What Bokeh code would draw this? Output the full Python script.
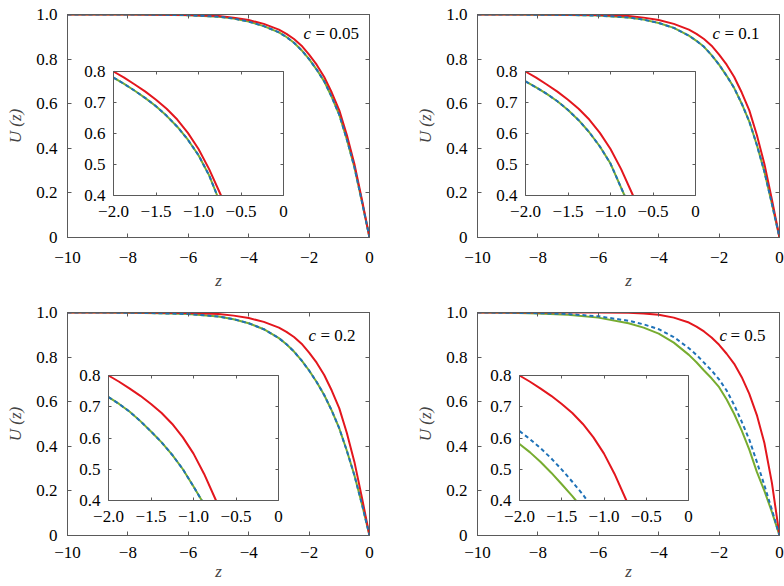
import numpy as np
from bokeh.plotting import figure
from bokeh.models import Range1d, LinearAxis, FixedTicker, BoxAnnotation, Label
from bokeh.layouts import column, row
from bokeh.embed import file_html
from bokeh.resources import INLINE

# ---------------- data ----------------
z_main = [-10, -9, -8, -7, -6, -5, -4.5, -4, -3.5, -3, -2.75, -2.5, -2.25, -2,
          -1.75, -1.5, -1.25, -1, -0.75, -0.5, -0.25, 0]

u_red_abc = [1.0, 1.0, 1.0, 0.999, 0.998, 0.993, 0.986, 0.975, 0.958, 0.932, 0.913, 0.89, 0.86, 0.82,
             0.775, 0.72, 0.65, 0.57, 0.46, 0.33, 0.17, 0.0]
u_red_d   = [1.0, 1.0, 1.0, 1.0, 1.0, 0.999, 0.996, 0.99, 0.977, 0.955, 0.937, 0.915, 0.888, 0.855,
             0.815, 0.77, 0.71, 0.635, 0.54, 0.415, 0.235, 0.0]

u_blue_a  = [1.0, 1.0, 1.0, 0.999, 0.997, 0.99, 0.982, 0.968, 0.948, 0.92, 0.899, 0.873, 0.84, 0.80,
             0.753, 0.70, 0.63, 0.55, 0.44, 0.315, 0.16, 0.0]
u_green_a = [1.0, 1.0, 1.0, 0.999, 0.997, 0.99, 0.982, 0.968, 0.948, 0.92, 0.899, 0.873, 0.84, 0.80,
             0.753, 0.70, 0.63, 0.55, 0.44, 0.315, 0.16, 0.0]
u_blue_b  = [1.0, 1.0, 0.999, 0.998, 0.995, 0.987, 0.977, 0.962, 0.94, 0.905, 0.882, 0.855, 0.818, 0.775,
             0.725, 0.67, 0.60, 0.52, 0.415, 0.295, 0.15, 0.0]
u_green_b = [1.0, 1.0, 0.999, 0.998, 0.995, 0.987, 0.977, 0.962, 0.94, 0.905, 0.882, 0.855, 0.818, 0.775,
             0.725, 0.67, 0.60, 0.52, 0.415, 0.295, 0.15, 0.0]
u_blue_c  = [1.0, 1.0, 0.999, 0.997, 0.993, 0.982, 0.97, 0.952, 0.925, 0.885, 0.858, 0.825, 0.785, 0.74,
             0.688, 0.63, 0.56, 0.48, 0.38, 0.27, 0.14, 0.0]
u_green_c = [1.0, 1.0, 0.999, 0.997, 0.993, 0.982, 0.97, 0.952, 0.925, 0.885, 0.858, 0.825, 0.785, 0.74,
             0.688, 0.63, 0.56, 0.48, 0.38, 0.27, 0.14, 0.0]
u_blue_d  = [1.0, 0.999, 0.997, 0.993, 0.983, 0.963, 0.947, 0.925, 0.89, 0.84, 0.81, 0.775, 0.74, 0.70,
             0.65, 0.585, 0.51, 0.43, 0.33, 0.225, 0.115, 0.0]
u_green_d = [1.0, 0.999, 0.996, 0.99, 0.977, 0.952, 0.932, 0.905, 0.865, 0.81, 0.777, 0.74, 0.705, 0.665,
             0.61, 0.545, 0.47, 0.385, 0.285, 0.20, 0.105, 0.0]

# inset curves (zoom of -2 < z < 0, 0.4 < U < 0.8)
zi_red = [-2.0, -1.875, -1.75, -1.625, -1.5, -1.375, -1.25, -1.125, -1.0, -0.875, -0.735]
ui_red = [0.800, 0.780, 0.758, 0.735, 0.709, 0.680, 0.645, 0.602, 0.550, 0.485, 0.400]

zi_blue_a = [-2.0, -1.875, -1.75, -1.625, -1.5, -1.375, -1.25, -1.125, -1.0, -0.875, -0.78]
ui_blue_a = [0.780, 0.760, 0.738, 0.714, 0.688, 0.657, 0.622, 0.580, 0.530, 0.465, 0.400]
zi_green_a = [-2.0, -1.875, -1.75, -1.625, -1.5, -1.375, -1.25, -1.125, -1.0, -0.875, -0.78]
ui_green_a = [0.780, 0.760, 0.738, 0.714, 0.688, 0.657, 0.622, 0.580, 0.530, 0.465, 0.400]

zi_blue_b = [-2.0, -1.875, -1.75, -1.625, -1.5, -1.375, -1.25, -1.125, -1.0, -0.835]
ui_blue_b = [0.768, 0.749, 0.728, 0.704, 0.676, 0.643, 0.604, 0.558, 0.503, 0.400]
zi_green_b = [-2.0, -1.875, -1.75, -1.625, -1.5, -1.375, -1.25, -1.125, -1.0, -0.835]
ui_green_b = [0.768, 0.749, 0.728, 0.704, 0.676, 0.643, 0.604, 0.558, 0.503, 0.400]

zi_blue_c = [-2.0, -1.875, -1.75, -1.625, -1.5, -1.375, -1.25, -1.125, -1.0, -0.902]
ui_blue_c = [0.731, 0.709, 0.684, 0.654, 0.621, 0.586, 0.546, 0.500, 0.445, 0.400]
zi_green_c = [-2.0, -1.875, -1.75, -1.625, -1.5, -1.375, -1.25, -1.125, -1.0, -0.902]
ui_green_c = [0.731, 0.709, 0.684, 0.654, 0.621, 0.586, 0.546, 0.500, 0.445, 0.400]

zi_blue_d = [-2.0, -1.875, -1.75, -1.625, -1.5, -1.375, -1.25, -1.2]
ui_blue_d = [0.622, 0.596, 0.567, 0.535, 0.499, 0.460, 0.419, 0.400]
zi_green_d = [-2.0, -1.875, -1.75, -1.625, -1.5, -1.375, -1.332]
ui_green_d = [0.581, 0.554, 0.523, 0.489, 0.452, 0.414, 0.400]

c_values = ["0.05", "0.1", "0.2", "0.5"]
panel_tags = ["a", "b", "c", "d"]

x_ticks = [-10, -8, -6, -4, -2, 0]
x_tick_labels = ["\u221210", "\u22128", "\u22126", "\u22124", "\u22122", "0"]
y_ticks = [0, 0.2, 0.4, 0.6, 0.8, 1.0]
y_tick_labels = ["0", "0.2", "0.4", "0.6", "0.8", "1.0"]
ix_ticks = [-2.0, -1.5, -1.0, -0.5, 0.0]
ix_tick_labels = ["\u22122.0", "\u22121.5", "\u22121.0", "\u22120.5", "0"]
iy_ticks = [0.4, 0.5, 0.6, 0.7, 0.8]
iy_tick_labels = ["0.4", "0.5", "0.6", "0.7", "0.8"]

# ---------------- styling / layout ----------------
FONT = "Liberation Serif"
FS = 17
AX = "#5a5a5a"
RED = "#e3161d"
BLUE = "#1f72b8"
GREEN = "#77ac30"
FW, FH = 302, 223

geoms = [
    dict(w=400, h=298, left=67, top=14, fx=67, fy=14, inset=(113, 283, 71, 195),
         tag_xy=(5, 13), c_xy=(303, 315, 33), xstand=14, zstand=5),
    dict(w=384, h=298, left=77, top=14, fx=477, fy=14, inset=(525, 695, 71, 195),
         tag_xy=(415, 13), c_xy=(712, 724, 33), xstand=14, zstand=5),
    dict(w=400, h=288, left=67, top=14, fx=67, fy=312, inset=(108, 278, 375, 500),
         tag_xy=(4, 308), c_xy=(308, 320, 335), xstand=11, zstand=1),
    dict(w=384, h=288, left=77, top=14, fx=477, fy=312, inset=(519, 688, 375, 500),
         tag_xy=(412, 316), c_xy=(719, 730, 335), xstand=11, zstand=1),
]

series = [
    (u_red_abc, u_blue_a, u_green_a, (zi_blue_a, ui_blue_a), (zi_green_a, ui_green_a)),
    (u_red_abc, u_blue_b, u_green_b, (zi_blue_b, ui_blue_b), (zi_green_b, ui_green_b)),
    (u_red_abc, u_blue_c, u_green_c, (zi_blue_c, ui_blue_c), (zi_green_c, ui_green_c)),
    (u_red_d, u_blue_d, u_green_d, (zi_blue_d, ui_blue_d), (zi_green_d, ui_green_d)),
]


def style_axis(ax, ticks, labels, tick_in=4, standoff=8):
    ax.ticker = FixedTicker(ticks=ticks)
    ax.minor_tick_line_color = None
    ax.major_tick_in = tick_in
    ax.major_tick_out = 0
    ax.axis_line_color = AX
    ax.major_tick_line_color = AX
    ax.major_label_text_font = FONT
    if labels:
        ax.major_label_text_color = "black"
        ax.major_label_text_font_size = f"{FS}px"
        ax.major_label_overrides = {t: l for t, l in zip(ticks, labels)}
        ax.major_label_standoff = standoff
    else:
        ax.major_label_text_color = None
        ax.major_label_text_alpha = 0
        ax.major_label_text_font_size = "1px"
        ax.major_label_standoff = 0


def page_to_data(g, px, py):
    x = -10 + (px - g["fx"]) / FW * 10
    y = (g["fy"] + FH - py) / FH
    return x, y


def add_text(p, g, px, py, text, style="normal", align="left"):
    x, y = page_to_data(g, px, py)
    p.add_layout(Label(x=x, y=y, text=text, text_font=FONT, text_font_size=f"{FS}px",
                       text_font_style=style, text_align=align, text_baseline="middle",
                       text_color="black"))


figs = []
for g, (ured, ublue, ugreen, ib, ig), tag, cv in zip(geoms, series, panel_tags, c_values):
    p = figure(width=g["w"], height=g["h"], x_range=Range1d(-10, 0), y_range=Range1d(0, 1),
               output_backend="svg", toolbar_location=None,
               min_border_left=g["left"], min_border_top=g["top"],
               min_border_right=g["w"] - g["left"] - FW,
               min_border_bottom=g["h"] - g["top"] - FH)
    p.grid.visible = False
    p.outline_line_color = AX
    p.background_fill_color = "white"
    p.border_fill_color = "white"

    xa = p.xaxis[0]
    style_axis(xa, x_ticks, x_tick_labels, tick_in=4, standoff=g["xstand"])
    xa.axis_label = "z"
    xa.axis_label_text_font = FONT
    xa.axis_label_text_font_size = f"{FS}px"
    xa.axis_label_text_font_style = "italic"
    xa.axis_label_standoff = g["zstand"]
    ya = p.yaxis[0]
    style_axis(ya, y_ticks, y_tick_labels, tick_in=4, standoff=10)
    ya.axis_label = "U (z)"
    ya.axis_label_text_font = FONT
    ya.axis_label_text_font_size = f"{FS}px"
    ya.axis_label_text_font_style = "italic"
    ya.axis_label_standoff = 8
    top_ax = LinearAxis()
    style_axis(top_ax, x_ticks, None)
    p.add_layout(top_ax, "above")
    right_ax = LinearAxis()
    style_axis(right_ax, y_ticks, None)
    p.add_layout(right_ax, "right")

    # inset ranges: map [-2,0] x [0.4,0.8] onto the inset box
    L, R, T, B = g["inset"]
    fl, fr = (L - g["fx"]) / FW, (R - g["fx"]) / FW
    span = 2.0 / (fr - fl)
    xs = -2.0 - fl * span
    ft, fb = (g["fy"] + FH - T) / FH, (g["fy"] + FH - B) / FH
    spany = 0.4 / (ft - fb)
    ys = 0.4 - fb * spany
    p.extra_x_ranges = {"ix": Range1d(xs, xs + span)}
    p.extra_y_ranges = {"iy": Range1d(ys, ys + spany)}

    # main curves
    p.line(z_main, ugreen, line_color=GREEN, line_width=2)
    p.line(z_main, ured, line_color=RED, line_width=2)
    p.line(z_main, ublue, line_color=BLUE, line_width=2, line_dash="4 3")

    # inset box
    p.add_layout(BoxAnnotation(left=-2, right=0, bottom=0.4, top=0.8,
                               x_range_name="ix", y_range_name="iy",
                               fill_color="white", fill_alpha=1.0, line_color=None,
                               level="underlay"))
    p.line(ig[0], ig[1], line_color=GREEN, line_width=2, x_range_name="ix", y_range_name="iy")
    p.line(zi_red, ui_red, line_color=RED, line_width=2, x_range_name="ix", y_range_name="iy")
    p.line(ib[0], ib[1], line_color=BLUE, line_width=2, line_dash="4 3",
           x_range_name="ix", y_range_name="iy")

    ib_ax = LinearAxis(x_range_name="ix", y_range_name="iy", fixed_location=0.4, bounds=(-2, 0))
    style_axis(ib_ax, ix_ticks, ix_tick_labels, tick_in=3, standoff=10)
    p.add_layout(ib_ax, "below")
    it_ax = LinearAxis(x_range_name="ix", y_range_name="iy", fixed_location=0.8, bounds=(-2, 0))
    style_axis(it_ax, ix_ticks, None, tick_in=3)
    p.add_layout(it_ax, "above")
    il_ax = LinearAxis(x_range_name="ix", y_range_name="iy", fixed_location=-2, bounds=(0.4, 0.8))
    style_axis(il_ax, iy_ticks, iy_tick_labels, tick_in=3, standoff=8)
    p.add_layout(il_ax, "left")
    ir_ax = LinearAxis(x_range_name="ix", y_range_name="iy", fixed_location=0, bounds=(0.4, 0.8))
    style_axis(ir_ax, iy_ticks, None, tick_in=3)
    p.add_layout(ir_ax, "right")

    # panel tag "(a)" etc.
    tx, ty = g["tag_xy"]
    add_text(p, g, tx, ty, "(")
    add_text(p, g, tx + 0.333 * FS, ty, tag, style="italic")
    add_text(p, g, tx + 0.333 * FS + 0.5 * FS, ty, ")")
    # c = value
    cx, ex, cy = g["c_xy"]
    add_text(p, g, cx, cy, "c", style="italic")
    add_text(p, g, ex, cy, "= " + cv)

    figs.append(p)

layout = column(row(figs[0], figs[1]), row(figs[2], figs[3]))
open("out.html", "w").write(file_html(layout, INLINE))
